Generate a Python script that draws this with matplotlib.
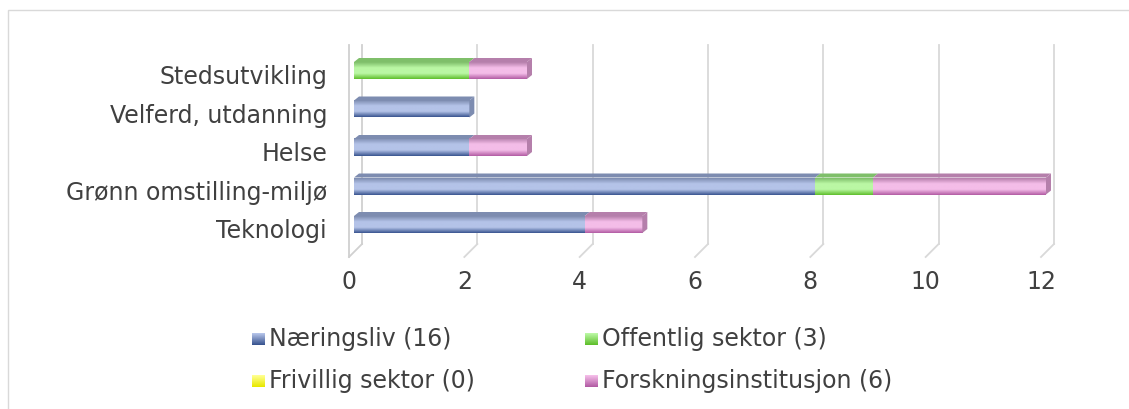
import matplotlib.pyplot as plt
import numpy as np
from matplotlib.colors import LinearSegmentedColormap, to_rgb
from matplotlib.patches import Rectangle, Polygon

categories = ["Teknologi", "Grønn omstilling-miljø", "Helse", "Velferd, utdanning", "Stedsutvikling"]
series = ["Næringsliv (16)", "Offentlig sektor (3)", "Frivillig sektor (0)", "Forskningsinstitusjon (6)"]
naeringsliv = [4, 8, 2, 2, 0]
offentlig = [0, 1, 0, 0, 2]
frivillig = [0, 0, 0, 0, 0]
forskning = [1, 3, 1, 0, 1]
xticks = [0, 2, 4, 6, 8, 10, 12]

# light (top) -> dark (bottom) gradient colours per series
grads = [("#b4c3e8", "#3a5590"), ("#baf7a4", "#5fbf2c"),
         ("#ffff90", "#e8e800"), ("#f4bde8", "#b25ca4")]
tops = ["#7d8cb0", "#7fbf6a", "#cccc40", "#b57fab"]

W, H = 1129, 410
fig = plt.figure(figsize=(W / 100, H / 100), dpi=100)
txt = "#404040"
fs = 17

# outer frame
fig.patches.append(Rectangle((8 / W, -0.1), 1.2, 1 - 11 / H + 0.1, transform=fig.transFigure,
                             fill=False, ec="#d9d9d9", lw=1))

ax_l, ax_r = 354, 1046
ax_t, ax_b = 46, 258
ax = fig.add_axes([ax_l / W, 1 - ax_b / H, (ax_r - ax_l) / W, (ax_b - ax_t) / H])
yc0, ysp = 225.5, 38.5
ylim = ((yc0 - ax_b) / ysp, (yc0 - ax_t) / ysp)
for s in ax.spines.values():
    s.set_visible(False)
ax.set_xticks([])
ax.set_yticks([])
ax.patch.set_alpha(0)

ux = 12 / (ax_r - ax_l)   # data units per pixel
uy = 1 / ysp

# back-wall grid lines with floor diagonals
floor_y = (yc0 - 245) / ysp
for v in xticks[1:]:
    xb = v + 8 * ux
    ax.plot([xb, xb], [ylim[1], floor_y], color="#d9d9d9", lw=1.3, zorder=0, clip_on=False)
    ax.plot([xb, v - 5 * ux], [floor_y, floor_y - 13 * uy], color="#d9d9d9", lw=1.3,
            zorder=0, clip_on=False)
# left wall
for off in (-5, 8):
    ax.plot([off * ux, off * ux], [ylim[1], floor_y - (13 * uy if off < 0 else 0)],
            color="#d0d0d0", lw=1.3, zorder=0, clip_on=False)
ax.plot([8 * ux, -5 * ux], [floor_y, floor_y - 13 * uy], color="#d0d0d0", lw=1.3,
        zorder=0, clip_on=False)

bh = 17 * uy
dx, dy = 5 * ux, 4 * uy
data = [naeringsliv, offentlig, frivillig, forskning]
y = np.arange(len(categories))
for i, yi in enumerate(y):
    left = 0
    last = None
    for k, vals in enumerate(data):
        w = vals[i]
        if w == 0:
            continue
        cmap = LinearSegmentedColormap.from_list("g", [grads[k][1], grads[k][0], grads[k][0],
                                                       tops[k]])
        grad = np.linspace(0, 1, 64).reshape(-1, 1)
        im = ax.imshow(grad, extent=[left, left + w, yi - bh / 2, yi + bh / 2], origin="lower",
                       cmap=cmap, aspect="auto", zorder=2)
        im.set_clip_on(False)
        ax.add_patch(Polygon([[left, yi + bh / 2], [left + w, yi + bh / 2],
                              [left + w + dx, yi + bh / 2 + dy], [left + dx, yi + bh / 2 + dy]],
                             closed=True, fc=tops[k], ec="none", zorder=2, clip_on=False))
        left += w
        last = k
    if last is not None:
        ax.add_patch(Polygon([[left, yi - bh / 2], [left + dx, yi - bh / 2 + dy],
                              [left + dx, yi + bh / 2 + dy], [left, yi + bh / 2]],
                             closed=True, fc=tops[last], ec="none", zorder=2, clip_on=False))
ax.set_xlim(0, 12)
ax.set_ylim(*ylim)

# category labels
for i, c in enumerate(categories):
    fig.text((ax_l - 27) / W, 1 - (yc0 + 6 - ysp * i) / H, c, ha="right", va="center",
             fontsize=fs, color=txt)
# tick labels
for v in xticks:
    fig.text((ax_l - 5 + v / ux) / W, 1 - 282 / H, str(v), ha="center", va="center",
             fontsize=fs, color=txt)

# legend
leg_pos = [(252, 339), (585, 339), (252, 381), (585, 381)]
for k, (lx, ly) in enumerate(leg_pos):
    n = 12
    for j in range(n):
        c = np.array(to_rgb(grads[k][0])) * (1 - j / (n - 1)) + np.array(to_rgb(grads[k][1])) * (j / (n - 1))
        fig.patches.append(Rectangle((lx / W, 1 - (ly - 5 + j + 1) / H), 13 / W, 1 / H,
                                     transform=fig.transFigure, fc=c, ec="none"))
    fig.text((lx + 17) / W, 1 - ly / H, series[k], ha="left", va="center", fontsize=fs, color=txt)

fig.savefig("out.png", dpi=100)
